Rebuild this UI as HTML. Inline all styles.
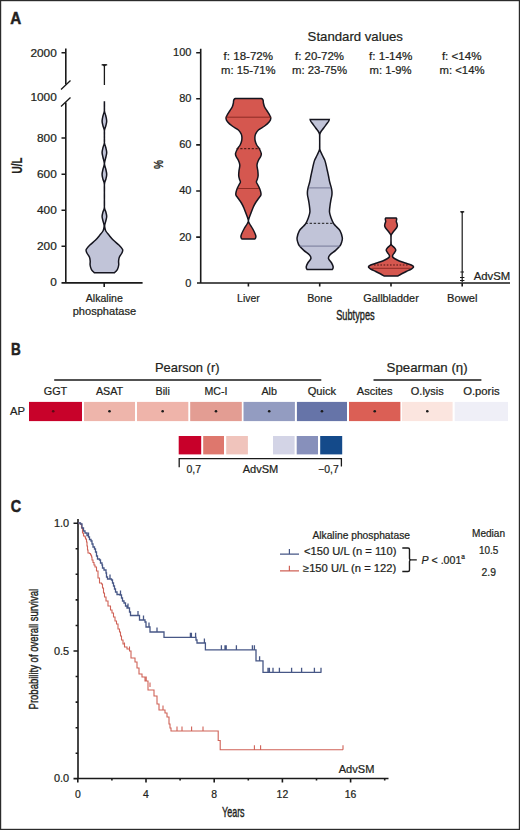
<!DOCTYPE html><html><head><meta charset="utf-8"><style>html,body{margin:0;padding:0;background:#fff;}svg{display:block;}text{font-family:"Liberation Sans",sans-serif;fill:#231f20;stroke:#231f20;stroke-width:0.22px;}</style></head><body>
<svg width="520" height="830" viewBox="0 0 520 830">
<rect x="0" y="0" width="520" height="830" fill="#fff"/>
<rect x="0.5" y="0.5" width="519" height="829" fill="none" stroke="#2b2b2b" stroke-width="1.4"/>
<text x="10.30" y="23.50" font-size="17.00" textLength="11.00" lengthAdjust="spacingAndGlyphs" font-weight="bold" style="stroke-width:0.5px">A</text>
<path d="M65.8,48.5 V84.5 M65.8,102.5 V282.9 M61.5,52.8 H65.8 M61.5,138 H65.8 M61.5,174.2 H65.8 M61.5,210.2 H65.8 M61.5,246.3 H65.8 M61.5,282.9 H142.6 M104.2,282.9 V287" stroke="#1a1a1a" stroke-width="1.6" fill="none"/>
<path d="M61,89.5 L70.5,80.5 M61,106.5 L70.5,97.5" stroke="#1a1a1a" stroke-width="1.3" fill="none"/>
<text x="56.80" y="56.60" font-size="11.20" text-anchor="end" textLength="26.40" lengthAdjust="spacingAndGlyphs">2000</text>
<text x="56.80" y="100.60" font-size="11.20" text-anchor="end" textLength="26.40" lengthAdjust="spacingAndGlyphs">1000</text>
<text x="56.80" y="141.80" font-size="11.20" text-anchor="end" textLength="19.80" lengthAdjust="spacingAndGlyphs">800</text>
<text x="56.80" y="178.00" font-size="11.20" text-anchor="end" textLength="19.80" lengthAdjust="spacingAndGlyphs">600</text>
<text x="56.80" y="213.90" font-size="11.20" text-anchor="end" textLength="19.80" lengthAdjust="spacingAndGlyphs">400</text>
<text x="56.80" y="250.00" font-size="11.20" text-anchor="end" textLength="19.80" lengthAdjust="spacingAndGlyphs">200</text>
<text x="56.80" y="286.30" font-size="11.20" text-anchor="end" textLength="6.60" lengthAdjust="spacingAndGlyphs">0</text>
<text x="104.30" y="302.00" font-size="10.80" text-anchor="middle" textLength="37.00" lengthAdjust="spacingAndGlyphs">Alkaline</text>
<text x="104.40" y="315.20" font-size="10.80" text-anchor="middle" textLength="63.40" lengthAdjust="spacingAndGlyphs">phosphatase</text>
<text transform="translate(22.2,165.5) rotate(-90)" font-size="14" font-weight="bold" text-anchor="middle" textLength="16" lengthAdjust="spacingAndGlyphs">U/L</text>
<path d="M104.42,102.00 C104.42,102.67 104.44,104.50 104.44,106.00 C104.45,107.50 104.22,109.33 104.45,111.00 C104.68,112.67 105.46,114.33 105.83,116.00 C106.21,117.67 106.70,119.38 106.70,121.00 C106.70,122.62 106.21,124.17 105.83,125.75 C105.46,127.33 104.68,128.62 104.45,130.50 C104.22,132.38 104.43,134.92 104.43,137.00 C104.43,139.08 104.22,141.21 104.45,143.00 C104.68,144.79 105.46,146.17 105.83,147.75 C106.21,149.33 106.70,150.92 106.70,152.50 C106.70,154.08 106.21,155.37 105.83,157.25 C105.46,159.13 104.45,161.80 104.45,163.80 C104.45,165.80 105.46,167.47 105.83,169.25 C106.21,171.03 106.70,172.83 106.70,174.50 C106.70,176.17 106.21,177.67 105.83,179.25 C105.46,180.83 104.68,181.21 104.45,184.00 C104.22,186.79 104.43,192.08 104.43,196.00 C104.43,199.92 104.22,204.83 104.45,207.50 C104.68,210.17 105.46,210.50 105.83,212.00 C106.21,213.50 106.70,215.04 106.70,216.50 C106.70,217.96 106.16,219.30 105.83,220.75 C105.50,222.20 104.86,223.99 104.70,225.20 C104.55,226.41 104.72,227.03 104.90,228.00 C105.08,228.97 105.13,229.83 105.80,231.00 C106.47,232.17 107.67,233.50 108.90,235.00 C110.13,236.50 111.53,238.33 113.20,240.00 C114.87,241.67 117.33,243.42 118.90,245.00 C120.47,246.58 122.10,248.17 122.60,249.50 C123.10,250.83 122.43,251.75 121.90,253.00 C121.37,254.25 119.95,255.67 119.40,257.00 C118.85,258.33 118.72,259.67 118.60,261.00 C118.48,262.33 118.87,263.67 118.70,265.00 C118.53,266.33 118.05,267.95 117.60,269.00 C117.15,270.05 116.57,270.67 116.00,271.30 C115.43,271.93 114.50,272.55 114.20,272.80 L94.60,272.80 C94.30,272.55 93.37,271.93 92.80,271.30 C92.23,270.67 91.65,270.05 91.20,269.00 C90.75,267.95 90.27,266.33 90.10,265.00 C89.93,263.67 90.32,262.33 90.20,261.00 C90.08,259.67 89.95,258.33 89.40,257.00 C88.85,255.67 87.43,254.25 86.90,253.00 C86.37,251.75 85.70,250.83 86.20,249.50 C86.70,248.17 88.33,246.58 89.90,245.00 C91.47,243.42 93.93,241.67 95.60,240.00 C97.27,238.33 98.67,236.50 99.90,235.00 C101.13,233.50 102.33,232.17 103.00,231.00 C103.67,229.83 103.72,228.97 103.90,228.00 C104.08,227.03 104.26,226.41 104.10,225.20 C103.95,223.99 103.30,222.20 102.97,220.75 C102.64,219.30 102.10,217.96 102.10,216.50 C102.10,215.04 102.59,213.50 102.97,212.00 C103.34,210.50 104.12,210.17 104.35,207.50 C104.58,204.83 104.37,199.92 104.37,196.00 C104.37,192.08 104.58,186.79 104.35,184.00 C104.12,181.21 103.34,180.83 102.97,179.25 C102.59,177.67 102.10,176.17 102.10,174.50 C102.10,172.83 102.59,171.03 102.97,169.25 C103.34,167.47 104.35,165.80 104.35,163.80 C104.35,161.80 103.34,159.13 102.97,157.25 C102.59,155.37 102.10,154.08 102.10,152.50 C102.10,150.92 102.59,149.33 102.97,147.75 C103.34,146.17 104.12,144.79 104.35,143.00 C104.58,141.21 104.37,139.08 104.37,137.00 C104.37,134.92 104.58,132.38 104.35,130.50 C104.12,128.62 103.34,127.33 102.97,125.75 C102.59,124.17 102.10,122.62 102.10,121.00 C102.10,119.38 102.59,117.67 102.97,116.00 C103.34,114.33 104.12,112.67 104.35,111.00 C104.58,109.33 104.36,107.50 104.36,106.00 C104.36,104.50 104.38,102.67 104.38,102.00 Z" fill="#c1c4d8" stroke="#15151f" stroke-width="1.5"/>
<path d="M104.4,65 V85 M101.6,64.8 H107.2" stroke="#1a1a1a" stroke-width="1.3" fill="none"/>
<path d="M102,64.2 L106.8,64.2 L104.4,67 Z" fill="#1a1a1a"/>
<path d="M200.7,48.8 V283 M197,283 H510 M196.2,52.70 H200.7 M196.2,98.80 H200.7 M196.2,144.90 H200.7 M196.2,191.00 H200.7 M196.2,237.10 H200.7 M248.40,283 V286.5 M319.70,283 V286.5 M391.00,283 V286.5 M462.20,283 V286.5" stroke="#1a1a1a" stroke-width="1.6" fill="none"/>
<text x="191.50" y="56.15" font-size="11.20" text-anchor="end" textLength="18.45" lengthAdjust="spacingAndGlyphs">100</text>
<text x="191.50" y="102.25" font-size="11.20" text-anchor="end" textLength="12.30" lengthAdjust="spacingAndGlyphs">80</text>
<text x="191.50" y="148.35" font-size="11.20" text-anchor="end" textLength="12.30" lengthAdjust="spacingAndGlyphs">60</text>
<text x="191.50" y="194.45" font-size="11.20" text-anchor="end" textLength="12.30" lengthAdjust="spacingAndGlyphs">40</text>
<text x="191.50" y="240.55" font-size="11.20" text-anchor="end" textLength="12.30" lengthAdjust="spacingAndGlyphs">20</text>
<text x="191.50" y="286.65" font-size="11.20" text-anchor="end" textLength="6.15" lengthAdjust="spacingAndGlyphs">0</text>
<text x="248.40" y="302.00" font-size="10.80" text-anchor="middle" textLength="22.60" lengthAdjust="spacingAndGlyphs">Liver</text>
<text x="319.70" y="302.00" font-size="10.80" text-anchor="middle" textLength="25.00" lengthAdjust="spacingAndGlyphs">Bone</text>
<text x="391.00" y="302.00" font-size="10.80" text-anchor="middle" textLength="55.50" lengthAdjust="spacingAndGlyphs">Gallbladder</text>
<text x="462.20" y="302.00" font-size="10.80" text-anchor="middle" textLength="30.40" lengthAdjust="spacingAndGlyphs">Bowel</text>
<text transform="translate(355.4,320.3)" font-size="14" text-anchor="middle" textLength="38.4" lengthAdjust="spacingAndGlyphs" style="stroke-width:0.4px">Subtypes</text>
<text transform="translate(162.6,164.4) rotate(-90)" font-size="12" font-weight="bold" text-anchor="middle" textLength="9" lengthAdjust="spacingAndGlyphs">%</text>
<text x="307.60" y="40.60" font-size="13.40" textLength="95.30" lengthAdjust="spacingAndGlyphs">Standard values</text>
<text x="223.60" y="59.80" font-size="11.20" textLength="49.40" lengthAdjust="spacingAndGlyphs">f: 18-72%</text>
<text x="221.00" y="74.20" font-size="11.20" textLength="54.60" lengthAdjust="spacingAndGlyphs">m: 15-71%</text>
<text x="295.00" y="59.80" font-size="11.20" textLength="49.00" lengthAdjust="spacingAndGlyphs">f: 20-72%</text>
<text x="292.00" y="74.20" font-size="11.20" textLength="55.00" lengthAdjust="spacingAndGlyphs">m: 23-75%</text>
<text x="369.00" y="59.80" font-size="11.20" textLength="43.50" lengthAdjust="spacingAndGlyphs">f: 1-14%</text>
<text x="369.50" y="74.20" font-size="11.20" textLength="42.00" lengthAdjust="spacingAndGlyphs">m: 1-9%</text>
<text x="441.90" y="59.80" font-size="11.20" textLength="39.60" lengthAdjust="spacingAndGlyphs">f: &lt;14%</text>
<text x="439.50" y="74.20" font-size="11.20" textLength="45.00" lengthAdjust="spacingAndGlyphs">m: &lt;14%</text>
<text x="473.70" y="279.80" font-size="11.20" textLength="36.50" lengthAdjust="spacingAndGlyphs">AdvSM</text>
<path d="M261.00,98.40 C261.23,98.52 262.03,98.73 262.40,99.10 C262.77,99.47 263.03,99.95 263.20,100.60 C263.37,101.25 263.17,101.93 263.40,103.00 C263.63,104.07 263.98,105.67 264.60,107.00 C265.22,108.33 266.27,109.67 267.10,111.00 C267.93,112.33 268.98,113.75 269.60,115.00 C270.22,116.25 270.88,117.33 270.80,118.50 C270.72,119.67 270.13,120.75 269.10,122.00 C268.07,123.25 266.38,124.67 264.60,126.00 C262.82,127.33 259.90,128.67 258.40,130.00 C256.90,131.33 256.18,132.83 255.60,134.00 C255.02,135.17 254.97,135.83 254.90,137.00 C254.83,138.17 254.90,139.67 255.20,141.00 C255.50,142.33 256.03,143.75 256.70,145.00 C257.37,146.25 258.43,147.05 259.20,148.50 C259.97,149.95 261.10,152.28 261.30,153.70 C261.50,155.12 260.87,155.92 260.40,157.00 C259.93,158.08 259.07,158.87 258.50,160.20 C257.93,161.53 257.12,163.25 257.00,165.00 C256.88,166.75 257.62,168.95 257.80,170.70 C257.98,172.45 258.17,174.12 258.10,175.50 C258.03,176.88 257.68,177.92 257.40,179.00 C257.12,180.08 256.32,181.00 256.40,182.00 C256.48,183.00 257.37,183.92 257.90,185.00 C258.43,186.08 259.13,187.33 259.60,188.50 C260.07,189.67 260.48,190.92 260.70,192.00 C260.92,193.08 261.20,194.00 260.90,195.00 C260.60,196.00 259.82,196.67 258.90,198.00 C257.98,199.33 256.40,201.33 255.40,203.00 C254.40,204.67 253.70,206.17 252.90,208.00 C252.10,209.83 251.28,212.17 250.60,214.00 C249.92,215.83 249.16,217.75 248.80,219.00 C248.44,220.25 248.30,220.67 248.45,221.50 C248.60,222.33 248.98,222.75 249.70,224.00 C250.43,225.25 251.88,227.33 252.80,229.00 C253.72,230.67 254.68,232.75 255.20,234.00 C255.72,235.25 255.87,235.78 255.90,236.50 C255.93,237.22 255.65,237.87 255.40,238.30 C255.15,238.73 254.57,238.97 254.40,239.10 L242.40,239.10 C242.23,238.97 241.65,238.73 241.40,238.30 C241.15,237.87 240.87,237.22 240.90,236.50 C240.93,235.78 241.08,235.25 241.60,234.00 C242.12,232.75 243.08,230.67 244.00,229.00 C244.92,227.33 246.38,225.25 247.10,224.00 C247.82,222.75 248.20,222.33 248.35,221.50 C248.50,220.67 248.36,220.25 248.00,219.00 C247.64,217.75 246.88,215.83 246.20,214.00 C245.52,212.17 244.70,209.83 243.90,208.00 C243.10,206.17 242.40,204.67 241.40,203.00 C240.40,201.33 238.82,199.33 237.90,198.00 C236.98,196.67 236.20,196.00 235.90,195.00 C235.60,194.00 235.88,193.08 236.10,192.00 C236.32,190.92 236.73,189.67 237.20,188.50 C237.67,187.33 238.37,186.08 238.90,185.00 C239.43,183.92 240.32,183.00 240.40,182.00 C240.48,181.00 239.68,180.08 239.40,179.00 C239.12,177.92 238.77,176.88 238.70,175.50 C238.63,174.12 238.82,172.45 239.00,170.70 C239.18,168.95 239.92,166.75 239.80,165.00 C239.68,163.25 238.87,161.53 238.30,160.20 C237.73,158.87 236.87,158.08 236.40,157.00 C235.93,155.92 235.30,155.12 235.50,153.70 C235.70,152.28 236.83,149.95 237.60,148.50 C238.37,147.05 239.43,146.25 240.10,145.00 C240.77,143.75 241.30,142.33 241.60,141.00 C241.90,139.67 241.97,138.17 241.90,137.00 C241.83,135.83 241.78,135.17 241.20,134.00 C240.62,132.83 239.90,131.33 238.40,130.00 C236.90,128.67 233.98,127.33 232.20,126.00 C230.42,124.67 228.73,123.25 227.70,122.00 C226.67,120.75 226.08,119.67 226.00,118.50 C225.92,117.33 226.58,116.25 227.20,115.00 C227.82,113.75 228.87,112.33 229.70,111.00 C230.53,109.67 231.58,108.33 232.20,107.00 C232.82,105.67 233.17,104.07 233.40,103.00 C233.63,101.93 233.43,101.25 233.60,100.60 C233.77,99.95 234.03,99.47 234.40,99.10 C234.77,98.73 235.57,98.52 235.80,98.40 Z" fill="#d5574f" stroke="#15151f" stroke-width="1.5"/>
<path d="M225.5,117.2 H271.3 M237.8,188.5 H259" stroke="#7a1f1a" stroke-width="0.8" fill="none"/>
<path d="M236.5,148.7 H260.3" stroke="#3a0f0c" stroke-width="1" stroke-dasharray="2.2,1.6" fill="none"/>
<path d="M329.20,119.50 C329.13,119.75 329.23,120.25 328.80,121.00 C328.37,121.75 327.45,122.83 326.60,124.00 C325.75,125.17 324.63,126.75 323.70,128.00 C322.77,129.25 321.63,130.50 321.00,131.50 C320.37,132.50 320.11,133.08 319.90,134.00 C319.69,134.92 319.77,134.83 319.75,137.00 C319.73,139.17 319.71,144.83 319.75,147.00 C319.79,149.17 319.59,148.67 320.00,150.00 C320.41,151.33 321.42,153.33 322.20,155.00 C322.98,156.67 324.05,158.33 324.70,160.00 C325.35,161.67 325.68,163.33 326.10,165.00 C326.52,166.67 326.80,168.17 327.20,170.00 C327.60,171.83 328.08,174.00 328.50,176.00 C328.92,178.00 329.27,180.17 329.70,182.00 C330.13,183.83 330.73,185.50 331.10,187.00 C331.47,188.50 331.77,189.67 331.90,191.00 C332.03,192.33 332.07,193.50 331.90,195.00 C331.73,196.50 331.20,198.33 330.90,200.00 C330.60,201.67 330.33,203.00 330.10,205.00 C329.87,207.00 329.33,209.83 329.50,212.00 C329.67,214.17 330.43,216.12 331.10,218.00 C331.77,219.88 332.73,221.97 333.50,223.30 C334.27,224.63 334.60,224.75 335.70,226.00 C336.80,227.25 339.00,228.85 340.10,230.80 C341.20,232.75 342.03,235.83 342.30,237.70 C342.57,239.57 342.08,240.65 341.70,242.00 C341.32,243.35 341.02,244.40 340.00,245.80 C338.98,247.20 337.28,248.87 335.60,250.40 C333.92,251.93 331.08,253.65 329.90,255.00 C328.72,256.35 328.22,257.17 328.50,258.50 C328.78,259.83 330.83,261.67 331.60,263.00 C332.37,264.33 332.88,265.58 333.10,266.50 C333.32,267.42 333.03,268.02 332.90,268.50 C332.77,268.98 332.40,269.25 332.30,269.40 L307.10,269.40 C307.00,269.25 306.63,268.98 306.50,268.50 C306.37,268.02 306.08,267.42 306.30,266.50 C306.52,265.58 307.03,264.33 307.80,263.00 C308.57,261.67 310.62,259.83 310.90,258.50 C311.18,257.17 310.68,256.35 309.50,255.00 C308.32,253.65 305.48,251.93 303.80,250.40 C302.12,248.87 300.42,247.20 299.40,245.80 C298.38,244.40 298.08,243.35 297.70,242.00 C297.32,240.65 296.83,239.57 297.10,237.70 C297.37,235.83 298.20,232.75 299.30,230.80 C300.40,228.85 302.60,227.25 303.70,226.00 C304.80,224.75 305.13,224.63 305.90,223.30 C306.67,221.97 307.63,219.88 308.30,218.00 C308.97,216.12 309.73,214.17 309.90,212.00 C310.07,209.83 309.53,207.00 309.30,205.00 C309.07,203.00 308.80,201.67 308.50,200.00 C308.20,198.33 307.67,196.50 307.50,195.00 C307.33,193.50 307.37,192.33 307.50,191.00 C307.63,189.67 307.93,188.50 308.30,187.00 C308.67,185.50 309.27,183.83 309.70,182.00 C310.13,180.17 310.48,178.00 310.90,176.00 C311.32,174.00 311.80,171.83 312.20,170.00 C312.60,168.17 312.88,166.67 313.30,165.00 C313.72,163.33 314.05,161.67 314.70,160.00 C315.35,158.33 316.42,156.67 317.20,155.00 C317.98,153.33 318.99,151.33 319.40,150.00 C319.81,148.67 319.61,149.17 319.65,147.00 C319.69,144.83 319.67,139.17 319.65,137.00 C319.62,134.83 319.71,134.92 319.50,134.00 C319.29,133.08 319.03,132.50 318.40,131.50 C317.77,130.50 316.63,129.25 315.70,128.00 C314.77,126.75 313.65,125.17 312.80,124.00 C311.95,122.83 311.03,121.75 310.60,121.00 C310.17,120.25 310.27,119.75 310.20,119.50 Z" fill="#c1c4d8" stroke="#15151f" stroke-width="1.5"/>
<path d="M308.6,187.9 H330.8 M299.6,246.1 H339.8" stroke="#6d7090" stroke-width="0.9" fill="none"/>
<path d="M305.5,223.3 H334" stroke="#1a1a1a" stroke-width="1" stroke-dasharray="2.4,1.7" fill="none"/>
<path d="M395.90,217.90 C396.02,218.00 396.48,218.18 396.60,218.50 C396.72,218.82 396.65,219.30 396.60,219.80 C396.55,220.30 396.22,220.80 396.30,221.50 C396.38,222.20 396.93,223.25 397.10,224.00 C397.27,224.75 397.42,225.33 397.30,226.00 C397.18,226.67 396.82,227.33 396.40,228.00 C395.98,228.67 395.40,229.25 394.80,230.00 C394.20,230.75 393.35,231.75 392.80,232.50 C392.25,233.25 391.79,233.92 391.50,234.50 C391.21,235.08 391.15,234.58 391.08,236.00 C391.01,237.42 391.03,241.50 391.10,243.00 C391.17,244.50 390.97,244.25 391.50,245.00 C392.03,245.75 393.58,246.67 394.30,247.50 C395.02,248.33 395.75,249.17 395.80,250.00 C395.85,250.83 395.10,251.67 394.60,252.50 C394.10,253.33 393.12,254.25 392.80,255.00 C392.48,255.75 392.28,256.33 392.70,257.00 C393.12,257.67 394.20,258.33 395.30,259.00 C396.40,259.67 397.63,260.33 399.30,261.00 C400.97,261.67 403.30,262.33 405.30,263.00 C407.30,263.67 409.92,264.33 411.30,265.00 C412.68,265.67 413.60,266.33 413.60,267.00 C413.60,267.67 412.52,268.25 411.30,269.00 C410.08,269.75 407.97,270.67 406.30,271.50 C404.63,272.33 402.72,273.25 401.30,274.00 C399.88,274.75 398.38,275.67 397.80,276.00 L384.20,276.00 C383.62,275.67 382.12,274.75 380.70,274.00 C379.28,273.25 377.37,272.33 375.70,271.50 C374.03,270.67 371.92,269.75 370.70,269.00 C369.48,268.25 368.40,267.67 368.40,267.00 C368.40,266.33 369.32,265.67 370.70,265.00 C372.08,264.33 374.70,263.67 376.70,263.00 C378.70,262.33 381.03,261.67 382.70,261.00 C384.37,260.33 385.60,259.67 386.70,259.00 C387.80,258.33 388.88,257.67 389.30,257.00 C389.72,256.33 389.52,255.75 389.20,255.00 C388.88,254.25 387.90,253.33 387.40,252.50 C386.90,251.67 386.15,250.83 386.20,250.00 C386.25,249.17 386.98,248.33 387.70,247.50 C388.42,246.67 389.97,245.75 390.50,245.00 C391.03,244.25 390.83,244.50 390.90,243.00 C390.97,241.50 390.99,237.42 390.92,236.00 C390.85,234.58 390.79,235.08 390.50,234.50 C390.21,233.92 389.75,233.25 389.20,232.50 C388.65,231.75 387.80,230.75 387.20,230.00 C386.60,229.25 386.02,228.67 385.60,228.00 C385.18,227.33 384.82,226.67 384.70,226.00 C384.58,225.33 384.73,224.75 384.90,224.00 C385.07,223.25 385.62,222.20 385.70,221.50 C385.78,220.80 385.45,220.30 385.40,219.80 C385.35,219.30 385.28,218.82 385.40,218.50 C385.52,218.18 385.98,218.00 386.10,217.90 Z" fill="#d5574f" stroke="#15151f" stroke-width="1.5"/>
<path d="M372,268.3 H410" stroke="#7a1f1a" stroke-width="0.8" fill="none"/>
<path d="M374,265 H408" stroke="#3a0f0c" stroke-width="0.9" stroke-dasharray="1.6,1.6" fill="none"/>
<path d="M462.2,212 V282 M460.4,211.8 H464.2 M460.4,272 H464 M460,277.5 H464.4 M460,280.5 H464.4" stroke="#1a1a1a" stroke-width="1.2" fill="none"/>
<path d="M460.2,211.2 L464.2,211.2 L462.2,213.6 Z" fill="#1a1a1a"/>
<text x="11.10" y="355.10" font-size="17.00" textLength="9.80" lengthAdjust="spacingAndGlyphs" font-weight="bold" style="stroke-width:0.5px">B</text>
<text x="155.00" y="372.00" font-size="13.00" textLength="64.50" lengthAdjust="spacingAndGlyphs">Pearson (r)</text>
<text x="386.60" y="372.00" font-size="13.00" textLength="81.00" lengthAdjust="spacingAndGlyphs">Spearman (η)</text>
<path d="M54.2,380 H321.3 M373.5,380 H481.4" stroke="#1a1a1a" stroke-width="1.6" fill="none"/>
<rect x="29.00" y="401.9" width="53.00" height="19.2" fill="#c8022a"/>
<text x="55.50" y="394.90" font-size="10.90" text-anchor="middle" textLength="23.50" lengthAdjust="spacingAndGlyphs">GGT</text>
<circle cx="53.20" cy="411.3" r="1.3" fill="#5a0a14"/>
<rect x="84.00" y="401.9" width="51.00" height="19.2" fill="#eeb5ab"/>
<text x="109.50" y="394.90" font-size="10.90" text-anchor="middle" textLength="27.20" lengthAdjust="spacingAndGlyphs">ASAT</text>
<circle cx="109.50" cy="411.3" r="1.3" fill="#1a1a1a"/>
<rect x="137.00" y="401.9" width="51.30" height="19.2" fill="#efb4aa"/>
<text x="162.65" y="394.90" font-size="10.90" text-anchor="middle" textLength="14.30" lengthAdjust="spacingAndGlyphs">Bili</text>
<circle cx="162.65" cy="411.3" r="1.3" fill="#1a1a1a"/>
<rect x="190.20" y="401.9" width="51.60" height="19.2" fill="#e39d93"/>
<text x="216.00" y="394.90" font-size="10.90" text-anchor="middle" textLength="23.00" lengthAdjust="spacingAndGlyphs">MC-I</text>
<circle cx="216.00" cy="411.3" r="1.3" fill="#1a1a1a"/>
<rect x="243.50" y="401.9" width="51.40" height="19.2" fill="#939cc1"/>
<text x="269.20" y="394.90" font-size="10.90" text-anchor="middle" textLength="15.60" lengthAdjust="spacingAndGlyphs">Alb</text>
<circle cx="269.20" cy="411.3" r="1.3" fill="#1a1a1a"/>
<rect x="296.90" y="401.9" width="50.10" height="19.2" fill="#6674a8"/>
<text x="321.95" y="394.90" font-size="10.90" text-anchor="middle" textLength="28.50" lengthAdjust="spacingAndGlyphs">Quick</text>
<circle cx="321.95" cy="411.3" r="1.3" fill="#1a1a1a"/>
<rect x="349.00" y="401.9" width="51.40" height="19.2" fill="#db5f55"/>
<text x="374.70" y="394.90" font-size="10.90" text-anchor="middle" textLength="35.80" lengthAdjust="spacingAndGlyphs">Ascites</text>
<circle cx="374.70" cy="411.3" r="1.3" fill="#1a1a1a"/>
<rect x="402.00" y="401.9" width="50.60" height="19.2" fill="#fbe5df"/>
<text x="427.30" y="394.90" font-size="10.90" text-anchor="middle" textLength="33.00" lengthAdjust="spacingAndGlyphs">O.lysis</text>
<circle cx="427.30" cy="411.3" r="1.3" fill="#1a1a1a"/>
<rect x="454.70" y="401.9" width="53.30" height="19.2" fill="#efeff7"/>
<text x="481.35" y="394.90" font-size="10.90" text-anchor="middle" textLength="36.40" lengthAdjust="spacingAndGlyphs">O.poris</text>
<text x="10.00" y="415.00" font-size="11.00" textLength="15.00" lengthAdjust="spacingAndGlyphs">AP</text>
<rect x="178.70" y="436.0" width="22.50" height="18.4" fill="#c8002a"/>
<rect x="203.20" y="436.0" width="20.80" height="18.4" fill="#de776d"/>
<rect x="226.20" y="436.0" width="21.70" height="18.4" fill="#f0c4bc"/>
<rect x="273.00" y="436.0" width="21.60" height="18.4" fill="#d3d4e6"/>
<rect x="296.70" y="436.0" width="21.30" height="18.4" fill="#8790bb"/>
<rect x="320.20" y="436.0" width="22.00" height="18.4" fill="#144a8a"/>
<path d="M179.2,467.2 V458.7 H341.4 V466.6" stroke="#1a1a1a" stroke-width="1.3" fill="none"/>
<text x="186.40" y="472.60" font-size="11.00" textLength="14.60" lengthAdjust="spacingAndGlyphs">0,7</text>
<text x="260.50" y="472.60" font-size="11.00" text-anchor="middle" textLength="35.60" lengthAdjust="spacingAndGlyphs">AdvSM</text>
<text x="338.80" y="472.60" font-size="11.00" text-anchor="end" textLength="20.60" lengthAdjust="spacingAndGlyphs">−0,7</text>
<text x="10.70" y="512.30" font-size="17.00" textLength="10.40" lengthAdjust="spacingAndGlyphs" font-weight="bold" style="stroke-width:0.5px">C</text>
<path d="M78,519 V778.5 M73.5,778.5 H388.5 M73.5,778.80 H78 M75.6,753.24 H78 M75.6,727.68 H78 M75.6,702.12 H78 M75.6,676.56 H78 M73.5,651.00 H78 M75.6,625.44 H78 M75.6,599.88 H78 M75.6,574.32 H78 M75.6,548.76 H78 M73.5,523.20 H78 M77.80,778.5 V782.6 M111.90,778.5 V780.6 M146.00,778.5 V782.6 M180.10,778.5 V780.6 M214.20,778.5 V782.6 M248.30,778.5 V780.6 M282.40,778.5 V782.6 M316.50,778.5 V780.6 M350.60,778.5 V782.6 M384.70,778.5 V780.6" stroke="#1a1a1a" stroke-width="1.6" fill="none"/>
<text x="69.20" y="526.70" font-size="10.40" text-anchor="end" textLength="15.20" lengthAdjust="spacingAndGlyphs">1.0</text>
<text x="69.20" y="654.50" font-size="10.40" text-anchor="end" textLength="15.20" lengthAdjust="spacingAndGlyphs">0.5</text>
<text x="69.20" y="782.30" font-size="10.40" text-anchor="end" textLength="15.20" lengthAdjust="spacingAndGlyphs">0.0</text>
<text x="77.80" y="797.60" font-size="10.40" text-anchor="middle" textLength="5.80" lengthAdjust="spacingAndGlyphs">0</text>
<text x="146.00" y="797.60" font-size="10.40" text-anchor="middle" textLength="5.80" lengthAdjust="spacingAndGlyphs">4</text>
<text x="214.20" y="797.60" font-size="10.40" text-anchor="middle" textLength="5.80" lengthAdjust="spacingAndGlyphs">8</text>
<text x="282.40" y="797.60" font-size="10.40" text-anchor="middle" textLength="11.60" lengthAdjust="spacingAndGlyphs">12</text>
<text x="350.60" y="797.60" font-size="10.40" text-anchor="middle" textLength="11.60" lengthAdjust="spacingAndGlyphs">16</text>
<text transform="translate(233.3,816.5)" font-size="14.3" text-anchor="middle" textLength="22.6" lengthAdjust="spacingAndGlyphs" style="stroke-width:0.4px">Years</text>
<text transform="translate(37.6,649.2) rotate(-90)" font-size="13.6" text-anchor="middle" textLength="120.5" lengthAdjust="spacingAndGlyphs" style="stroke-width:0.4px">Probability of overall survival</text>
<text x="338.70" y="772.50" font-size="10.80" textLength="35.70" lengthAdjust="spacingAndGlyphs">AdvSM</text>
<path d="M78.00,523.00 H80.00 V524.00 H81.50 V528.00 H82.50 V533.00 H83.50 V536.00 H85.00 V537.00 H85.50 V539.00 H86.50 V542.00 H87.00 V546.00 H87.50 V550.00 H88.00 V553.00 H89.50 V553.50 H90.50 V555.00 H91.50 V557.00 H92.00 V560.00 H93.00 V562.50 H94.00 V565.00 H95.00 V567.00 H96.50 V571.00 H98.00 V578.00 H99.50 V583.00 H101.50 V584.00 H102.50 V588.00 H103.50 V593.00 H104.50 V597.00 H106.00 V601.00 H108.00 V606.00 H110.50 V610.00 H112.00 V613.00 H113.50 V617.00 H115.00 V621.00 H116.50 V624.00 H118.00 V629.00 H119.50 V632.00 H120.50 V636.00 H121.50 V640.00 H123.00 V644.00 H124.50 V647.00 H127.00 V649.00 H129.50 V651.00 H131.00 V658.00 H135.00 V662.00 H137.00 V668.00 H139.00 V674.00 H142.00 V677.00 H145.00 V681.00 H148.00 V687.00 H148.00 V690.00 H153.00 V690.00 H154.00 V696.00 H157.00 V704.00 H159.00 V710.00 H163.00 V710.00 H165.00 V713.00 H167.00 V717.00 H169.00 V724.00 H170.00 V728.00 H171.00 V731.00 H218.20 V731.00 H218.20 V740.50 H220.20 V740.50 H220.20 V749.80 H343.00 V749.80 M124.50,647.00 V642.50 M129.50,651.00 V646.50 M145.00,681.00 V676.50 M146.20,681.00 V676.50 M150.00,687.00 V682.50 M163.00,710.00 V705.50 M177.00,731.00 V726.50 M182.00,731.00 V726.50 M191.60,731.00 V726.50 M203.00,731.00 V726.50 M254.40,749.80 V745.30 M260.60,749.80 V745.30 M343.00,749.80 V745.30" stroke="#cf6257" stroke-width="1.1" fill="none"/>
<path d="M78.00,523.00 H80.50 V524.00 H82.00 V528.00 H83.50 V531.00 H85.00 V533.00 H87.00 V535.50 H88.50 V537.00 H89.50 V539.50 H91.00 V541.00 H92.00 V544.00 H93.00 V547.00 H94.50 V549.00 H95.50 V552.00 H96.50 V556.00 H97.50 V559.00 H99.50 V560.00 H100.50 V563.00 H102.00 V565.00 H102.50 V568.00 H104.00 V570.00 H106.00 V573.00 H106.50 V577.00 H107.50 V579.00 H110.00 V579.00 H111.50 V580.00 H112.50 V583.00 H113.50 V586.00 H114.50 V589.00 H115.50 V592.00 H117.00 V594.50 H120.00 V595.00 H121.50 V598.00 H122.50 V601.00 H124.00 V603.00 H125.50 V606.00 H127.00 V608.00 H129.00 V608.00 H129.50 V612.00 H130.50 V615.50 H138.00 V615.50 H139.50 V620.00 H143.50 V620.00 H145.00 V622.00 H146.00 V627.00 H149.00 V627.00 H150.00 V632.00 H164.00 V632.00 H164.00 V637.40 H196.00 V637.40 H196.00 V640.00 H197.00 V643.00 H205.40 V643.00 H205.40 V649.80 H256.00 V649.80 H256.00 V660.80 H263.00 V660.80 H263.00 V672.40 H321.40 V672.40 M88.50,537.00 V532.40 M110.00,579.00 V574.40 M120.50,595.00 V590.40 M128.00,608.00 V603.40 M138.00,615.50 V610.90 M143.50,620.00 V615.40 M149.00,627.00 V622.40 M157.00,632.00 V627.40 M190.40,637.40 V632.80 M191.40,637.40 V632.80 M195.60,637.40 V632.80 M204.40,643.00 V638.40 M221.40,649.80 V645.20 M225.00,649.80 V645.20 M226.20,649.80 V645.20 M236.40,649.80 V645.20 M252.40,649.80 V645.20 M254.40,649.80 V645.20 M259.60,660.80 V656.20 M268.00,672.40 V667.80 M269.40,672.40 V667.80 M273.00,672.40 V667.80 M279.40,672.40 V667.80 M291.60,672.40 V667.80 M301.60,672.40 V667.80 M314.40,672.40 V667.80 M321.00,672.40 V667.80" stroke="#475786" stroke-width="1.3" fill="none"/>
<text x="312.40" y="538.90" font-size="10.40" textLength="97.60" lengthAdjust="spacingAndGlyphs">Alkaline phosphatase</text>
<path d="M280,554.1 H299 M289.4,554.1 V549" stroke="#475786" stroke-width="1.2" fill="none"/>
<path d="M280,570.9 H299 M289.4,570.9 V565.8" stroke="#cf6257" stroke-width="1.2" fill="none"/>
<text x="304.00" y="555.00" font-size="10.60" textLength="92.40" lengthAdjust="spacingAndGlyphs">&lt;150 U/L (n = 110)</text>
<text x="303.00" y="572.00" font-size="10.60" textLength="93.20" lengthAdjust="spacingAndGlyphs">≥150 U/L (n = 122)</text>
<path d="M402.3,548 H408 Q409.5,548 409.5,549.5 V558.4 Q409.5,559.9 411,559.9 H416.8 M411,559.9 Q409.5,559.9 409.5,561.4 V570 Q409.5,571.5 408,571.5 H402.3" stroke="#1a1a1a" stroke-width="1.4" fill="none"/>
<text x="421.5" y="563.6" font-size="10.6"><tspan font-style="italic">P</tspan> &lt; .001</text>
<text x="461.20" y="559.20" font-size="6.50">a</text>
<text x="472.00" y="537.00" font-size="10.40" textLength="33.00" lengthAdjust="spacingAndGlyphs">Median</text>
<text x="488.70" y="554.40" font-size="10.60" text-anchor="middle" textLength="19.40" lengthAdjust="spacingAndGlyphs">10.5</text>
<text x="488.80" y="576.40" font-size="10.60" text-anchor="middle" textLength="14.40" lengthAdjust="spacingAndGlyphs">2.9</text>
</svg></body></html>
